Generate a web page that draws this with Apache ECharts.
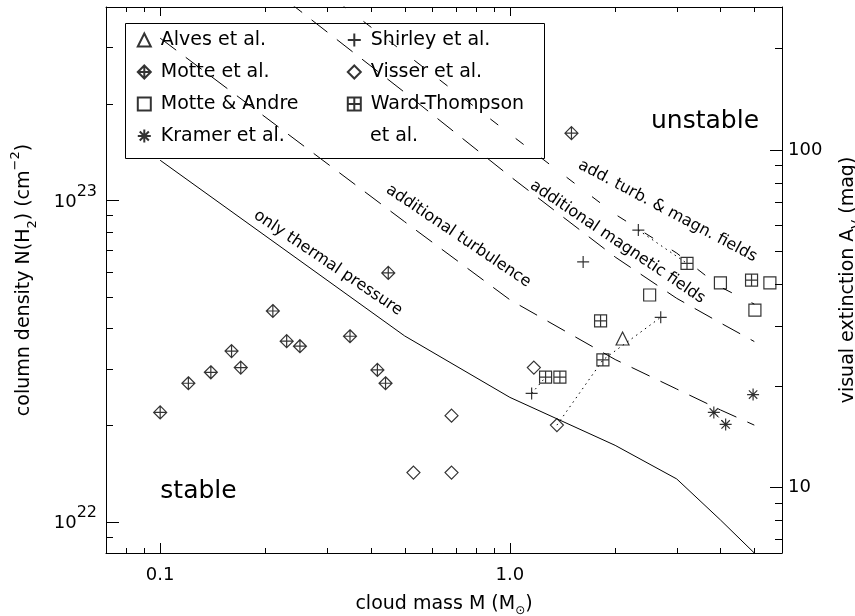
<!DOCTYPE html>
<html><head><meta charset="utf-8">
<script src="https://cdn.jsdelivr.net/npm/echarts@6/dist/echarts.min.js"></script>
<style>html,body{margin:0;padding:0;background:#fff}#c{width:855px;height:616px}</style>
</head><body><div id="c"></div><script>
const FONT = 'DejaVu Sans';

// ---- axis ranges ----
const massRange = [0.07, 6.0];
const densityRange = [8e21, 4e23];
const extinctionRange = [6.38, 265.5];

// ---- ticks and tick labels ----
const massTicks = [0.1, 1];
const massTickLabels = ['0.1', '1.0'];
const massMinorTicks = [0.08, 0.09, 0.2, 0.3, 0.4, 0.5, 0.6, 0.7, 0.8, 0.9, 2, 3, 4, 5];
const densityTicks = [1e22, 1e23];
const densityTickExponents = ['22', '23'];
const densityMinorTicks = [9e21, 2e22, 3e22, 4e22, 5e22, 6e22, 7e22, 8e22, 9e22, 2e23, 3e23];
const extinctionTicks = [10, 100];
const extinctionTickLabels = ['10', '100'];
const extinctionMinorTicks = [7, 8, 9, 20, 30, 40, 50, 60, 70, 80, 90, 200];

// ---- stability curves (mass, column density) ----
const curveMass = [0.1, 0.5, 1, 2, 3, 4, 5];
const thermalOnly = [1.334e23, 3.79e22, 2.44e22, 1.73e22, 1.36e22, 1.014e22, 8.0e21];
const addTurbulence = [3.2e23, 8.59e22, 4.91e22, 3.20e22, 2.59e22, 2.23e22, 2.0e22];
const addMagnetic = [8.5e23, 2.17e23, 1.19e23, 6.67e22, 4.96e22, 4.16e22, 3.64e22];
const addTurbMagn = [1.1e24, 2.88e23, 1.61e23, 9.06e22, 6.86e22, 5.38e22, 4.76e22];

// ---- observed cores [mass, N(H2)] ----
const alves = [[2.10, 3.72e22]];
const motte = [[0.100, 2.19e22], [0.1204, 2.70e22], [0.1396, 2.92e22], [0.160, 3.40e22],
  [0.170, 3.02e22], [0.210, 4.53e22], [0.230, 3.65e22], [0.251, 3.52e22], [0.349, 3.78e22],
  [0.418, 2.97e22], [0.441, 2.70e22], [0.449, 5.95e22], [1.50, 1.62e23]];
const motteAndre = [[2.51, 5.08e22], [4.00, 5.54e22], [5.54, 5.54e22], [5.02, 4.56e22]];
const kramer = [[3.83, 2.19e22], [4.14, 2.01e22], [4.96, 2.49e22]];
const shirley = [[1.154, 2.51e22], [2.70, 4.33e22], [1.62, 6.44e22], [2.33, 8.09e22]];
const visser = [[0.530, 1.423e22], [0.681, 2.14e22], [0.681, 1.423e22], [1.171, 3.02e22], [1.363, 2.0e22]];
const wardThompson = [[1.265, 2.82e22], [1.39, 2.82e22], [1.845, 3.19e22], [1.817, 4.22e22], [3.21, 6.37e22], [4.91, 5.65e22]];

// dotted links between the same core in different studies
const links = [
  [visser[4], wardThompson[2], shirley[1]],
  [shirley[0], wardThompson[0]],
  [shirley[3], wardThompson[4]],
  [kramer[0], kramer[1]]
];

function labelFor(values, labels) {
  return v => {
    const i = values.findIndex(t => Math.abs(Math.log10(v / t)) < 1e-6);
    return i < 0 ? '' : labels[i];
  };
}

const black = '#000';
const hollow = { color: 'rgba(0,0,0,0)', borderColor: black, borderWidth: 1.2 };

function curve(name, values, type) {
  return { name, type: 'line', xAxisIndex: 0, yAxisIndex: 0, silent: true, symbol: 'none', clip: true,
    data: curveMass.map((m, i) => [m, values[i]]),
    lineStyle: { color: black, width: 1, type: type } };
}
function scatter(name, data, symbol, size) {
  return { name, type: 'scatter', xAxisIndex: 0, yAxisIndex: 0, data, symbol, symbolSize: size,
    itemStyle: hollow, emphasis: { disabled: true }, silent: true };
}

const SYM_MOTTE = 'path://M0,-10L10,0L0,10L-10,0ZM0,-10L0,10M-10,0L10,0';
const SYM_WT = 'path://M-10,-10L10,-10L10,10L-10,10ZM0,-10L0,10M-10,0L10,0';
const SYM_PLUS = 'path://M0,-10L0,10M-10,0L10,0';
const SYM_STAR = 'path://M-10,0L10,0M0,-10L0,10M-7,-7L7,7M-7,7L7,-7';

const px = v => Math.round(v) + 0.5;
function tickLine(x1, y1, x2, y2) {
  return { type: 'line', shape: { x1, y1, x2, y2 }, style: { stroke: black, lineWidth: 1 } };
}

const series = [
  curve('only thermal pressure', thermalOnly, 'solid'),
  curve('additional turbulence', addTurbulence, [20, 12]),
  curve('additional magnetic fields', addMagnetic, [20, 12]),
  curve('add. turb. & magn. fields', addTurbMagn, [10, 22]),
  ...links.map((pts, k) => ({ name: 'link' + k, type: 'line', xAxisIndex: 0, yAxisIndex: 0, silent: true,
    symbol: 'none', data: pts, lineStyle: { color: black, width: 1, type: [1.5, 4] } })),
  scatter('Alves et al.', alves, 'triangle', 13),
  scatter('Motte et al.', motte, SYM_MOTTE, 13),
  scatter('Motte & Andre', motteAndre, 'rect', 12),
  scatter('Kramer et al.', kramer, SYM_STAR, 12),
  scatter('Shirley et al.', shirley, SYM_PLUS, 12),
  scatter('Visser et al.', visser, 'diamond', 13),
  scatter('Ward-Thompson et al.', wardThompson, SYM_WT, 12),
  { type: 'custom', coordinateSystem: 'cartesian2d', silent: true, xAxisIndex: 0, yAxisIndex: 0,
    data: massMinorTicks.map(v => [v, 1e23]),
    renderItem: (p, api) => {
      const v = api.value(0);
      const b = api.coord([v, densityRange[0]]), t = api.coord([v, densityRange[1]]);
      return { type: 'group', children: [
        tickLine(px(b[0]), b[1], px(b[0]), b[1] - 5),
        tickLine(px(t[0]), t[1], px(t[0]), t[1] + 5)] };
    } },
  { type: 'custom', coordinateSystem: 'cartesian2d', silent: true, xAxisIndex: 0, yAxisIndex: 0,
    data: densityMinorTicks.map(v => [1, v]),
    renderItem: (p, api) => {
      const c = api.coord([massRange[0], api.value(1)]);
      return tickLine(c[0], px(c[1]), c[0] + 7, px(c[1]));
    } },
  { type: 'custom', coordinateSystem: 'cartesian2d', silent: true, xAxisIndex: 0, yAxisIndex: 1,
    data: extinctionMinorTicks.map(v => [1, v]),
    renderItem: (p, api) => {
      const c = api.coord([massRange[1], api.value(1)]);
      return tickLine(c[0] - 7, px(c[1]), c[0], px(c[1]));
    } }
];

const axisCommon = {
  type: 'log', logBase: 10, splitLine: { show: false },
  axisLine: { show: true, onZero: false, lineStyle: { color: black, width: 1 } },
  nameTextStyle: { color: black, fontFamily: FONT, fontSize: 19 }
};

const legendCommon = {
  orient: 'vertical', top: 30, itemWidth: 13, itemHeight: 13, itemGap: 12, padding: 0,
  selectedMode: false, z: 5,
  textStyle: { fontSize: 19, fontFamily: FONT, color: black, lineHeight: 20, padding: [0, 0, 0, 5] }
};

const textEl = (x, y, text, size, deg, align) => ({
  type: 'text', z: 6, x, y, rotation: -(deg || 0) * Math.PI / 180,
  style: { text, fontSize: size, fontFamily: FONT, fill: black, align: align || 'center', verticalAlign: 'middle' }
});

const option = {
  animation: false,
  backgroundColor: '#fff',
  grid: { left: 106, right: 73, top: 7, bottom: 63, outerBoundsMode: 'none' },
  xAxis: [
    Object.assign({}, axisCommon, {
      position: 'bottom', min: massRange[0], max: massRange[1],
      axisTick: { show: true, inside: true, length: 10, lineStyle: { color: black, width: 1 } },
      axisLabel: { formatter: labelFor(massTicks, massTickLabels), fontSize: 18, fontFamily: FONT, color: black, margin: 13 },
      name: 'cloud mass M (M{sub|⊙})', nameLocation: 'middle', nameGap: 38,
      nameTextStyle: { color: black, fontFamily: FONT, fontSize: 19, lineHeight: 26,
        rich: { sub: { fontSize: 12, lineHeight: 12, verticalAlign: 'bottom', fontFamily: FONT, color: black } } }
    }),
    Object.assign({}, axisCommon, {
      position: 'top', min: massRange[0], max: massRange[1],
      axisTick: { show: true, inside: true, length: 9, lineStyle: { color: black, width: 1 } },
      axisLabel: { show: false }
    })
  ],
  yAxis: [
    Object.assign({}, axisCommon, {
      position: 'left', min: densityRange[0], max: densityRange[1],
      axisTick: { show: true, inside: true, length: 13, lineStyle: { color: black, width: 1 } },
      axisLabel: {
        formatter: labelFor(densityTicks, densityTickExponents.map(e => '{b|10}{s|' + e + '}')),
        margin: 9, color: black, fontFamily: FONT,
        rich: { b: { fontSize: 18, lineHeight: 34, fontFamily: FONT, color: black, padding: [3, 0, 0, 0] },
                s: { fontSize: 16, lineHeight: 14, verticalAlign: 'top', fontFamily: FONT, color: black } }
      },
      name: 'column density N(H{sub|2}) (cm{sup|−2})', nameLocation: 'middle', nameRotate: 90, nameGap: 67,
      nameTextStyle: { color: black, fontFamily: FONT, fontSize: 19, lineHeight: 30,
        rich: { sub: { fontSize: 13, lineHeight: 13, verticalAlign: 'bottom', fontFamily: FONT, color: black },
                sup: { fontSize: 13, lineHeight: 13, verticalAlign: 'top', fontFamily: FONT, color: black } } }
    }),
    Object.assign({}, axisCommon, {
      position: 'right', min: extinctionRange[0], max: extinctionRange[1],
      axisTick: { show: true, inside: true, length: 12, lineStyle: { color: black, width: 1 } },
      axisLabel: { formatter: labelFor(extinctionTicks, extinctionTickLabels), fontSize: 18, fontFamily: FONT, color: black, margin: 6 },
      name: 'visual extinction A{sub|V} (mag)', nameLocation: 'middle', nameRotate: 90, nameGap: 46,
      nameTextStyle: { color: black, fontFamily: FONT, fontSize: 19, lineHeight: 30,
        rich: { sub: { fontSize: 13, lineHeight: 13, verticalAlign: 'bottom', fontFamily: FONT, color: black } } }
    })
  ],
  legend: [
    Object.assign({}, legendCommon, { left: 136.8, data: ['Alves et al.', 'Motte et al.', 'Motte & Andre', 'Kramer et al.'] }),
    Object.assign({}, legendCommon, { left: 346.8, data: ['Shirley et al.', 'Visser et al.', 'Ward-Thompson et al.'],
      formatter: n => n === 'Ward-Thompson et al.' ? 'Ward-Thompson' : n })
  ],
  graphic: [
    { type: 'rect', z: 3, shape: { x: 125.5, y: 23.5, width: 419, height: 135 }, style: { fill: '#fff', stroke: black, lineWidth: 1 } },
    textEl(370, 136, 'et al.', 19, 0, 'left'),
    textEl(705, 121, 'unstable', 25),
    textEl(198.5, 491, 'stable', 25),
    textEl(328, 263, 'only thermal pressure', 16, 34),
    textEl(458.5, 236, 'additional turbulence', 16, 34),
    textEl(617.5, 242, 'additional magnetic fields', 16, 34),
    textEl(667.5, 211, 'add. turb. & magn. fields', 16, 28)
  ],
  series
};

const chart = echarts.init(document.getElementById('c'), null, { renderer: 'canvas' });
chart.setOption(option);
</script></body></html>
